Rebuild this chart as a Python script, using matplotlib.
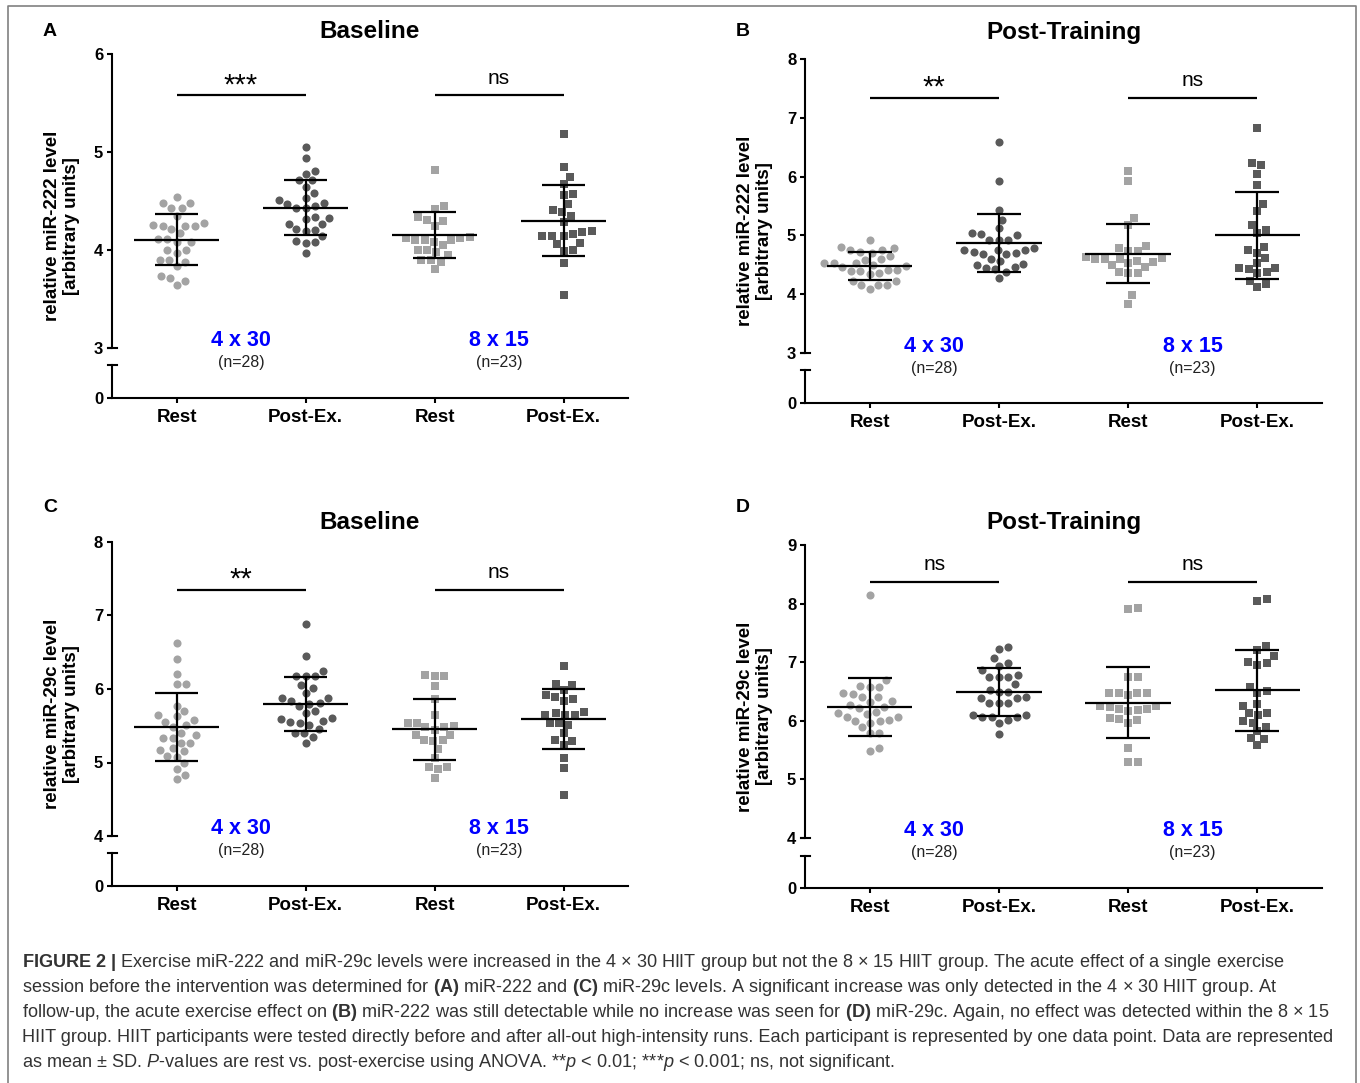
import numpy as np
import matplotlib

matplotlib.use("Agg")
import matplotlib.pyplot as plt
from matplotlib.lines import Line2D
from matplotlib.transforms import blended_transform_factory

plt.rcParams["font.family"] = ["Liberation Sans", "DejaVu Sans"]
plt.rcParams["mathtext.fontset"] = "custom"
plt.rcParams["mathtext.rm"] = "Liberation Sans"
plt.rcParams["mathtext.bf"] = "Liberation Sans:bold"
plt.rcParams["mathtext.it"] = "Liberation Sans:italic"

# --- data -----------------------------------------------------------------------
categories = ["Rest", "Post-Ex.", "Rest", "Post-Ex."]
groups = ["4 x 30", "8 x 15"]
group_n = ["(n=28)", "(n=23)"]

# A: miR-222, baseline
a_rest_4x30 = [4.54, 4.48, 4.48, 4.43, 4.43, 4.26, 4.28, 4.25, 4.25, 4.25, 4.21, 4.17, 4.11, 4.08,
               4.08, 4.00, 4.00, 3.97, 3.90, 3.90, 3.88, 3.84, 3.73, 3.71, 3.68, 3.64, 4.11, 4.35]
a_post_4x30 = [5.05, 4.94, 4.78, 4.81, 4.71, 4.71, 4.64, 4.58, 4.53, 4.51, 4.48, 4.47, 4.43, 4.43,
               4.34, 4.33, 4.32, 4.27, 4.27, 4.21, 4.19, 4.20, 4.08, 4.07, 4.09, 3.97, 4.45, 4.14]
a_rest_8x15 = [4.82, 4.45, 4.42, 4.34, 4.30, 4.31, 4.25, 4.13, 4.12, 4.10, 4.10, 4.08, 4.10, 4.12,
               4.00, 3.98, 4.00, 3.95, 3.90, 3.88, 3.90, 3.81, 4.05]
a_post_8x15 = [5.18, 4.85, 4.74, 4.67, 4.56, 4.57, 4.47, 4.39, 4.41, 4.35, 4.29, 4.19, 4.16, 4.14,
               4.14, 4.14, 4.18, 4.07, 4.06, 3.99, 4.00, 3.87, 3.54]
a_mean = [4.105, 4.43, 4.15, 4.30]
a_sd = [0.26, 0.28, 0.233, 0.36]

# B: miR-222, post-training
b_rest_4x30 = [4.93, 4.79, 4.76, 4.76, 4.80, 4.70, 4.65, 4.60, 4.59, 4.53, 4.53, 4.53, 4.42, 4.42,
               4.39, 4.39, 4.35, 4.36, 4.23, 4.23, 4.16, 4.16, 4.16, 4.08, 4.48, 4.50, 4.46, 4.72]
b_post_4x30 = [6.58, 5.93, 5.44, 5.27, 5.12, 5.04, 5.01, 5.02, 4.93, 4.93, 4.93, 4.76, 4.76, 4.79,
               4.76, 4.70, 4.69, 4.69, 4.72, 4.60, 4.57, 4.52, 4.50, 4.46, 4.45, 4.43, 4.38, 4.28]
b_rest_8x15 = [6.10, 5.93, 5.29, 5.17, 4.82, 4.79, 4.74, 4.74, 4.63, 4.60, 4.60, 4.57, 4.60, 4.62,
               4.53, 4.54, 4.46, 4.49, 4.38, 4.36, 4.36, 3.98, 3.83]
b_post_8x15 = [6.82, 6.20, 6.23, 6.05, 5.85, 5.54, 5.41, 5.17, 5.10, 5.04, 4.80, 4.76, 4.70, 4.62,
               4.45, 4.43, 4.53, 4.45, 4.38, 4.36, 4.23, 4.13, 4.18]
b_mean = [4.48, 4.87, 4.69, 5.00]
b_sd = [0.24, 0.49, 0.505, 0.745]

# C: miR-29c, baseline
c_rest_4x30 = [6.63, 6.41, 6.20, 6.07, 6.07, 5.77, 5.70, 5.64, 5.63, 5.58, 5.55, 5.51, 5.40, 5.37,
               5.34, 5.33, 5.27, 5.27, 5.20, 5.15, 5.17, 5.09, 5.08, 4.99, 4.91, 4.83, 4.78, 5.48]
c_post_4x30 = [6.88, 6.45, 6.25, 6.18, 6.18, 6.18, 6.05, 6.02, 5.94, 5.88, 5.88, 5.81, 5.84, 5.77,
               5.70, 5.67, 5.60, 5.59, 5.55, 5.57, 5.54, 5.51, 5.45, 5.40, 5.40, 5.35, 5.27, 5.80]
c_rest_8x15 = [6.18, 6.19, 6.18, 6.04, 5.87, 5.64, 5.50, 5.48, 5.54, 5.54, 5.48, 5.38, 5.38, 5.30,
               5.29, 5.31, 5.18, 5.06, 4.94, 4.94, 4.91, 4.79, 5.44]
c_post_8x15 = [6.31, 6.07, 6.05, 5.99, 5.92, 5.87, 5.89, 5.83, 5.67, 5.65, 5.64, 5.65, 5.69, 5.54,
               5.54, 5.51, 5.40, 5.30, 5.29, 5.24, 5.06, 4.93, 4.56]
c_mean = [5.48, 5.80, 5.45, 5.59]
c_sd = [0.46, 0.365, 0.41, 0.405]

# D: miR-29c, post-training
d_rest_4x30 = [8.15, 6.69, 6.58, 6.60, 6.58, 6.45, 6.47, 6.41, 6.41, 6.34, 6.32, 6.27, 6.12, 6.07,
               6.07, 6.02, 6.15, 6.13, 6.00, 5.97, 5.99, 5.89, 5.80, 5.79, 5.49, 5.53, 6.22, 6.24]
d_post_4x30 = [7.23, 7.26, 7.07, 6.99, 6.93, 6.79, 6.75, 6.74, 6.75, 6.86, 6.52, 6.49, 6.62, 6.41,
               6.31, 6.31, 6.39, 6.39, 6.31, 6.10, 6.07, 6.01, 5.96, 6.07, 6.07, 6.10, 5.77, 6.50]
d_rest_8x15 = [7.91, 7.93, 6.75, 6.75, 6.48, 6.47, 6.44, 6.47, 6.48, 6.26, 6.26, 6.24, 6.20, 6.18,
               6.17, 6.20, 6.04, 6.01, 5.97, 6.03, 5.53, 5.30, 5.30]
d_post_8x15 = [8.07, 8.05, 7.27, 7.20, 7.10, 6.99, 6.96, 7.01, 6.58, 6.47, 6.51, 6.25, 6.28, 6.13,
               6.10, 6.14, 5.99, 5.97, 5.90, 5.83, 5.70, 5.69, 5.58]
d_mean = [6.23, 6.49, 6.31, 6.52]
d_sd = [0.495, 0.405, 0.61, 0.69]

sig_labels = {"A": ["***", "ns"], "B": ["**", "ns"], "C": ["**", "ns"], "D": ["ns", "ns"]}
sig_y = {"A": 5.58, "B": 7.34, "C": 7.35, "D": 8.37}

caption_lines = [
    r"$\mathbf{FIGURE\ 2\ |}$ Exercise miR-222 and miR-29c levels were increased in the 4 × 30 HIIT group "
    r"but not the 8 × 15 HIIT group. The acute effect of a single exercise",
    r"session before the intervention was determined for $\mathbf{(A)}$ miR-222 and $\mathbf{(C)}$ miR-29c "
    r"levels. A significant increase was only detected in the 4 × 30 HIIT group. At",
    r"follow-up, the acute exercise effect on $\mathbf{(B)}$ miR-222 was still detectable while no increase "
    r"was seen for $\mathbf{(D)}$ miR-29c. Again, no effect was detected within the 8 × 15",
    r"HIIT group. HIIT participants were tested directly before and after all-out high-intensity runs. "
    r"Each participant is represented by one data point. Data are represented",
    r"as mean ± SD. $\mathit{P}$-values are rest vs. post-exercise using ANOVA. **$\mathit{p}$ < 0.01; "
    r"***$\mathit{p}$ < 0.001; ns, not significant.",
]

# --- layout (image pixels) -----------------------------------------------------------
W, H = 1360, 1083
fig = plt.figure(figsize=(W / 100, H / 100), dpi=100)
PX = 0.72  # points per pixel at dpi 100

LIGHT, DARK = "#a3a3a3", "#5a5a5a"
colors = [LIGHT, DARK, LIGHT, DARK]
markers = ["o", "o", "s", "s"]
sizes = [34, 34, 29, 29]

panels = [
    dict(letter="A", title="Baseline", ylabel="relative miR-222 level\n[arbitrary units]",
         series=[a_rest_4x30, a_post_4x30, a_rest_8x15, a_post_8x15], mean=a_mean, sd=a_sd,
         ylim=(3, 6), x0=112, x1=628, top=54, mid=348, cap=365, base=398, title_y=32, letter_y=32),
    dict(letter="B", title="Post-Training", ylabel="relative miR-222 level\n[arbitrary units]",
         series=[b_rest_4x30, b_post_4x30, b_rest_8x15, b_post_8x15], mean=b_mean, sd=b_sd,
         ylim=(3, 8), x0=805, x1=1322, top=59, mid=353, cap=370, base=403, title_y=33, letter_y=32),
    dict(letter="C", title="Baseline", ylabel="relative miR-29c level\n[arbitrary units]",
         series=[c_rest_4x30, c_post_4x30, c_rest_8x15, c_post_8x15], mean=c_mean, sd=c_sd,
         ylim=(4, 8), x0=112, x1=628, top=542, mid=836, cap=853, base=886, title_y=522, letter_y=508),
    dict(letter="D", title="Post-Training", ylabel="relative miR-29c level\n[arbitrary units]",
         series=[d_rest_4x30, d_post_4x30, d_rest_8x15, d_post_8x15], mean=d_mean, sd=d_sd,
         ylim=(4, 9), x0=805, x1=1322, top=545, mid=838, cap=856, base=888, title_y=522, letter_y=508),
]


def px_axes(left, top, right, bottom):
    return fig.add_axes([left / W, 1 - bottom / H, (right - left) / W, (bottom - top) / H])


def swarm(ypix, d):
    """Beeswarm offsets (pixels) so that no two markers are closer than d."""
    order = np.argsort(ypix)
    placed, out = [], np.zeros(len(ypix))
    for k in order:
        y = ypix[k]
        cands = [0.0]
        for px, py in placed:
            dy = y - py
            if abs(dy) < d:
                dx = np.sqrt(d * d - dy * dy)
                cands += [px + dx, px - dx]
        ok = [c for c in cands
              if all((c - px) ** 2 + (y - py) ** 2 >= d * d - 1e-6 for px, py in placed)]
        x = min(ok, key=abs)
        placed.append((x, y))
        out[k] = x
    return out


def style(ax):
    for s in ("top", "right"):
        ax.spines[s].set_visible(False)
    for s in ("left", "bottom"):
        ax.spines[s].set_linewidth(1.5)
    ax.tick_params(width=1.5, length=3.8, pad=2.5, labelsize=12)
    for lab in ax.get_yticklabels():
        lab.set_fontweight("bold")


for p in panels:
    ax = px_axes(p["x0"], p["top"], p["x1"], p["mid"])
    lo = px_axes(p["x0"], p["cap"], p["x1"], p["base"])
    for a in (ax, lo):
        a.set_xlim(-0.5, 3.5)
        a.patch.set_visible(False)
    ax.set_ylim(*p["ylim"])
    ax.set_yticks(range(p["ylim"][0], p["ylim"][1] + 1))
    ax.spines["bottom"].set_visible(False)
    ax.set_xticks([])
    lo.set_ylim(0, 1)
    lo.set_yticks([0])
    lo.set_xticks(range(4))
    lo.set_xticklabels(categories)
    style(ax)
    style(lo)
    lo.tick_params(axis="x", pad=4)
    for lab in lo.get_xticklabels():
        lab.set_fontweight("bold")
        lab.set_fontsize(13.5)

    # axis break caps
    cap = 4.5 / (p["x1"] - p["x0"])
    tb = blended_transform_factory(ax.transAxes, ax.transData)
    ax.plot([-cap, cap], [p["ylim"][0]] * 2, color="black", lw=1.5, transform=tb, clip_on=False)
    tl = blended_transform_factory(lo.transAxes, lo.transData)
    lo.plot([-cap, cap], [1, 1], color="black", lw=1.5, transform=tl, clip_on=False)

    # points in a swarm
    x_unit = ax.transData.transform([[1, 0]])[0, 0] - ax.transData.transform([[0, 0]])[0, 0]
    for i, vals in enumerate(p["series"]):
        vals = np.asarray(vals)
        ypix = ax.transData.transform(np.column_stack([np.full(len(vals), i), vals]))[:, 1]
        xs = i + swarm(ypix, 9.5) / x_unit
        ax.scatter(xs, vals, marker=markers[i], s=sizes[i], color=colors[i], linewidths=0,
                   zorder=2, clip_on=False)

    # mean +/- SD
    xpos = np.arange(4)
    mean, sd = np.array(p["mean"]), np.array(p["sd"])
    ax.hlines(mean, xpos - 0.33, xpos + 0.33, color="black", lw=1.6, zorder=3)
    ax.vlines(xpos, mean - sd, mean + sd, color="black", lw=1.6, zorder=3)
    ax.hlines(np.r_[mean - sd, mean + sd], np.r_[xpos, xpos] - 0.17, np.r_[xpos, xpos] + 0.17,
              color="black", lw=1.6, zorder=3)

    # significance bars
    ys = sig_y[p["letter"]]
    ax.hlines([ys, ys], [0, 2], [1, 3], color="black", lw=1.6)
    for j, lab in enumerate(sig_labels[p["letter"]]):
        stars = lab.startswith("*")
        ax.annotate(lab, (2 * j + 0.5, ys), xytext=(0, (10 if stars else 17) * PX),
                    textcoords="offset points", ha="center", va="center",
                    fontsize=21 if stars else 15)

    # group labels
    for j in range(2):
        ax.annotate(groups[j], (2 * j + 0.5, p["ylim"][0]), xytext=(0, 7 * PX),
                    textcoords="offset points", ha="center", va="center", color="#0000ff",
                    fontsize=15.5, fontweight="bold", annotation_clip=False)
        ax.annotate(group_n[j], (2 * j + 0.5, p["ylim"][0]), xytext=(0, -15 * PX),
                    textcoords="offset points", ha="center", va="center", color="#222222",
                    fontsize=11.5, annotation_clip=False)

    # titles, panel letters, y labels
    cx = (p["x0"] + p["x1"]) / 2
    fig.text(cx / W, 1 - p["title_y"] / H, p["title"], ha="center", va="center",
             fontsize=17.5, fontweight="bold")
    fig.text((p["x0"] - 62) / W, 1 - p["letter_y"] / H, p["letter"], ha="center", va="center",
             fontsize=14, fontweight="bold")
    fig.text((p["x0"] - 50) / W, 1 - (p["top"] + p["base"]) / 2 / H, p["ylabel"], rotation=90,
             ha="center", va="center", multialignment="center", fontsize=13.5, fontweight="bold")

# --- caption -------------------------------------------------------------------------
renderer = fig.canvas.get_renderer()
cap_texts = [fig.text(22 / W, 1 - (967 + 25 * i) / H, line, fontsize=12, color="#333333",
                      ha="left", va="baseline") for i, line in enumerate(caption_lines)]
w0 = cap_texts[0].get_window_extent(renderer).width
for t in cap_texts:
    t.set_fontsize(12 * 1264 / w0)

# outer frame (open at the bottom, as in the cropped original)
fig.add_artist(Line2D([8 / W, 8 / W, 1356 / W, 1356 / W], [0, 1 - 6 / H, 1 - 6 / H, 0],
                      color="#808080", lw=1.2))

fig.savefig("out.png", dpi=100)
